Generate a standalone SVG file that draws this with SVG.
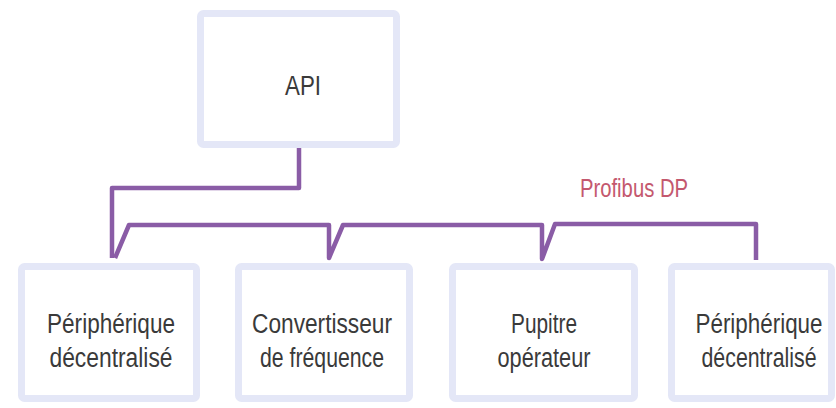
<svg xmlns="http://www.w3.org/2000/svg" width="836" height="408" viewBox="0 0 836 408">
<style>
.box{fill:#ffffff;stroke:#e4e7f7;stroke-width:7}
.lbl{font-family:"Liberation Sans",Arial,sans-serif;font-size:27px;fill:#3a3a3a;text-anchor:middle}
.bus{fill:none;stroke:#8a5ca6;stroke-width:4.5;stroke-linejoin:round;stroke-linecap:butt}
.buslbl{font-family:"Liberation Sans",Arial,sans-serif;font-size:25px;fill:#c4586e;text-anchor:middle}
</style>
<rect width="836" height="408" fill="#ffffff"/>
<g id="api">
<rect class="box" x="200.5" y="13.5" width="196" height="131" rx="3"/>
<text class="lbl" x="303" y="95" textLength="36" lengthAdjust="spacingAndGlyphs">API</text>
</g>
<g id="peripherique1">
<rect class="box" x="21.5" y="266.5" width="175" height="132" rx="3"/>
<text class="lbl" x="111" y="333" textLength="128" lengthAdjust="spacingAndGlyphs">Périphérique</text>
<text class="lbl" x="111" y="367" textLength="123" lengthAdjust="spacingAndGlyphs">décentralisé</text>
</g>
<g id="convertisseur">
<rect class="box" x="238.5" y="266.5" width="171" height="132" rx="3"/>
<text class="lbl" x="322" y="333" textLength="140" lengthAdjust="spacingAndGlyphs">Convertisseur</text>
<text class="lbl" x="322" y="367" textLength="124" lengthAdjust="spacingAndGlyphs">de fréquence</text>
</g>
<g id="pupitre">
<rect class="box" x="452.5" y="266.5" width="182" height="132" rx="3"/>
<text class="lbl" x="544" y="333" textLength="66" lengthAdjust="spacingAndGlyphs">Pupitre</text>
<text class="lbl" x="544" y="367" textLength="93" lengthAdjust="spacingAndGlyphs">opérateur</text>
</g>
<g id="peripherique2">
<rect class="box" x="671.5" y="266.5" width="160" height="132" rx="3"/>
<text class="lbl" transform="translate(759,333) scale(0.83,1)" x="0" y="0">Périphérique</text>
<text class="lbl" transform="translate(759,367) scale(0.79,1)" x="0" y="0">décentralisé</text>
</g>
<g id="connectors">
<path class="bus" d="M299,148 V188 H112 V258"/>
<path class="bus" d="M115,258 L129,225 H329 V258 L343,225 H542 V259 L555,224 H756 V260"/>
<text class="buslbl" x="634" y="197" textLength="108" lengthAdjust="spacingAndGlyphs">Profibus DP</text>
</g>
</svg>
